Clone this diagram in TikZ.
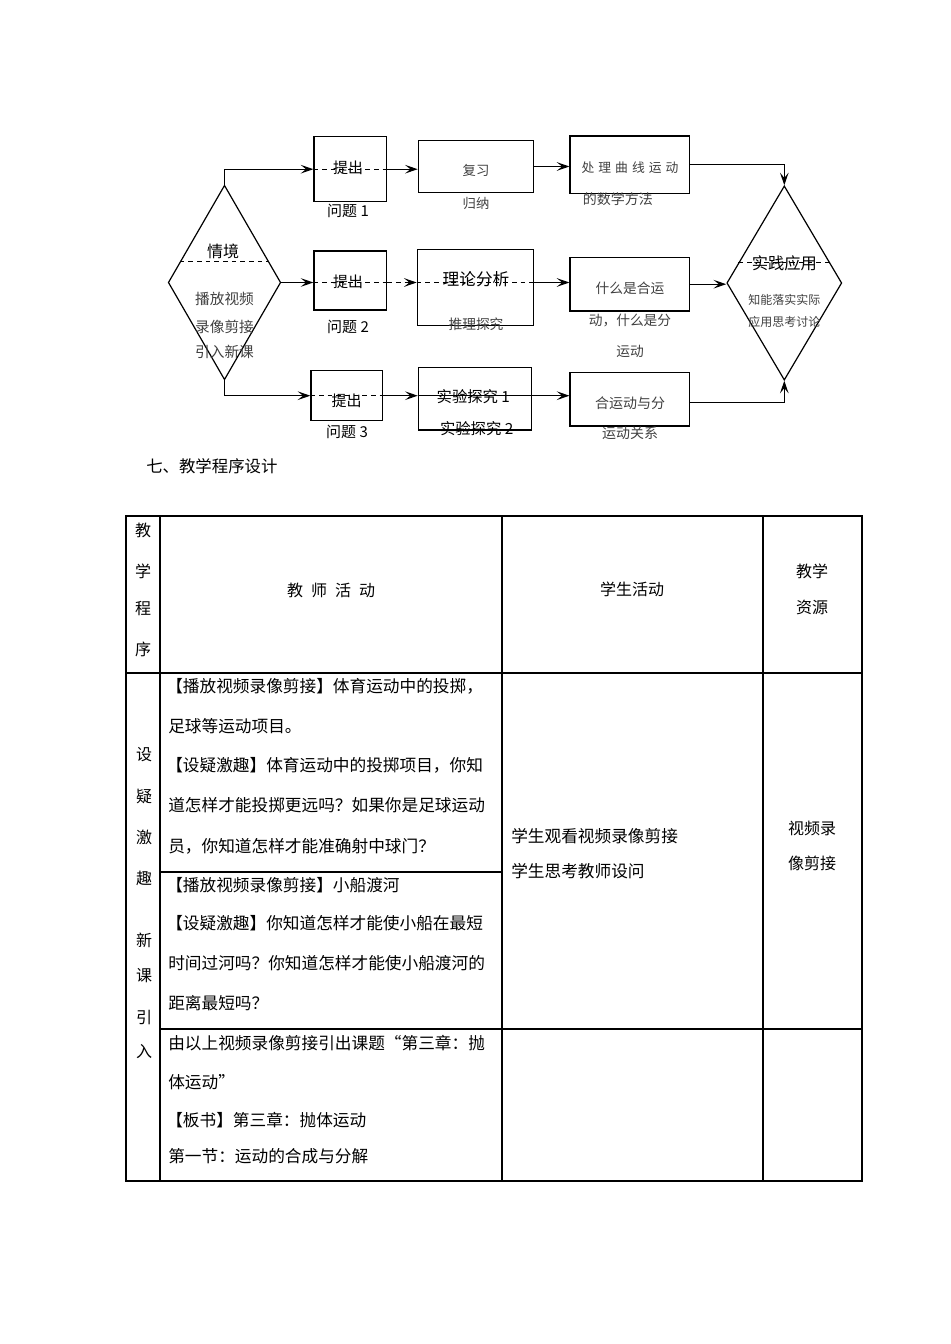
\documentclass[tikz,border=0pt]{standalone}
\usepackage{fontspec}
\setmainfont{Noto Sans CJK SC}
\usetikzlibrary{arrows.meta,shapes.geometric,calc}
\begin{document}
\begin{tikzpicture}[x=0.75pt,y=-0.75pt,
  fsz/.style={font=\fontsize{#1}{#1}\selectfont},
  box/.style={draw,line width=0.9pt,inner sep=0pt},
  dia/.style={draw,line width=0.9pt,diamond,inner sep=0pt},
  lbl/.style={inner sep=0pt},
  soft/.style={text=black!75},
  tip/.style={-{Stealth[length=9.5pt,width=6.5pt,inset=4pt]}},
  arr/.style={line width=0.9pt,tip},
  dline/.style={line width=0.9pt,dash pattern=on 3.5pt off 3pt},
  grid/.style={line width=0.9pt},
  frame/.style={line width=1.8pt}
]
\useasboundingbox (0,0) rectangle (950,1344);

% ---------- flowchart: shapes ----------
\node[dia,minimum width=84.4pt,minimum height=145.9pt] (dl) at (224.5,282.5) {};
\node[dia,minimum width=86.25pt,minimum height=145.7pt] (dr) at (784.3,283) {};

\node[box,minimum width=54.5pt,minimum height=48.75pt] (b1) at (350.3,169.2) {};
\node[box,minimum width=54.5pt,minimum height=44.25pt] (b2) at (350.3,280.5) {};
\node[box,minimum width=53.8pt,minimum height=37.5pt] (b3) at (346.8,395.7) {};

\node[box,minimum width=86.25pt,minimum height=38.7pt] (c1) at (475.8,166.5) {};
\node[box,minimum width=87pt,minimum height=57.3pt] (c2) at (475.3,287.5) {};
\node[box,minimum width=85pt,minimum height=47pt] (c3) at (475,398.7) {};

\node[box,minimum width=89.5pt,minimum height=43pt] (d1) at (629.7,164.7) {};
\node[box,minimum width=89.5pt,minimum height=40.3pt] (d2) at (629.7,284.2) {};
\node[box,minimum width=89.5pt,minimum height=40pt] (d3) at (629.7,399.3) {};

% dashed lines inside diamonds
\draw[dline] ($(dl.west)!0.214!(dl.north)$) -- ($(dl.east)!0.214!(dl.north)$);
\draw[dline] ($(dr.west)!0.209!(dr.north)$) -- ($(dr.east)!0.209!(dr.north)$);

% ---------- flowchart: texts ----------
\node[lbl,fsz=12pt] (tqj) at (223,251.7) {情境};
\node[lbl,fsz=11pt,soft] (tl1) at (224.5,299) {播放视频};
\node[lbl,fsz=11pt,soft] (tl2) at (224.5,327) {录像剪接};
\node[lbl,fsz=11pt,soft] (tl3) at (224.5,352) {引入新课};

\node[lbl,fsz=11.25pt] (tb1) at (348,168) {提出};
\node[lbl,fsz=11.25pt] (tb2) at (348,281.7) {提出};
\node[lbl,fsz=11.25pt] (tb3) at (346.7,401) {提出};
\node[lbl,fsz=11.25pt] (qb1) at (348,211) {问题 1};
\node[lbl,fsz=11.25pt] (qb2) at (348,327) {问题 2};
\node[lbl,fsz=11.25pt] (qb3) at (347,432) {问题 3};

\node[lbl,fsz=10pt,soft] (tc1) at (476,170.7) {复习};
\node[lbl,fsz=10pt,soft] (tc1b) at (476,203.3) {归纳};
\node[lbl,fsz=12.5pt] (tc2) at (476,279.3) {理论分析};
\node[lbl,fsz=10.3pt,soft] (tc2b) at (476,324) {推理探究};
\node[lbl,fsz=11.5pt] (tc3) at (473.3,396.7) {实验探究 1};
\node[lbl,fsz=11.5pt] (tc3b) at (476.7,428.3) {实验探究 2};

\node[lbl,fsz=9.6pt,soft] (td1) at (630,167.3) {处\hspace{3pt}理\hspace{3pt}曲\hspace{3pt}线\hspace{3pt}运\hspace{3pt}动};
\node[lbl,fsz=10.5pt,soft,anchor=west] (td1b) at (582.7,199) {的数学方法};
\node[lbl,fsz=10.3pt,soft] (td2) at (630,288.3) {什么是合运};
\node[lbl,fsz=10.3pt,soft] (td2b) at (630,320) {动，什么是分};
\node[lbl,fsz=10.3pt,soft] (td2c) at (630,351) {运动};
\node[lbl,fsz=10.5pt,soft] (td3) at (630,403.3) {合运动与分};
\node[lbl,fsz=10.5pt,soft] (td3b) at (630,433.3) {运动关系};

\node[lbl,fsz=12.2pt] (tsj) at (784.3,263.3) {实践应用};
\node[lbl,fsz=9pt,soft] (tsj1) at (784.3,300) {知能落实实际};
\node[lbl,fsz=9pt,soft] (tsj2) at (784.3,322.3) {应用思考讨论};

% ---------- flowchart: connectors ----------
% row 1
\draw[arr] (dl.north) |- (b1.west);
\draw[dline] (b1.west) -- (b1.east);
\draw[arr] (b1.east) -- (b1.east -| c1.west);
\draw[arr] (c1.east) -- (c1.east -| d1.west);
\draw[arr] (d1.east) -| (dr.north);
% row 2
\draw[arr] (dl.east) -- (dl.east -| b2.west);
\draw[dline] (dl.east -| b2.west) -- (dl.east -| b2.east);
\draw[dline,tip] (dl.east -| b2.east) -- (dl.east -| c2.west);
\draw[dline] (dl.east -| c2.west) -- (dl.east -| c2.east);
\draw[arr] (dl.east -| c2.east) -- (dl.east -| d2.west);
\draw[arr] (d2.east) -- (d2.east -| dr.west);
% row 3
\draw[arr] (dl.south) |- (b3.west);
\draw[dline] (b3.west) -- (b3.east);
\draw[arr] (b3.east) -- (b3.east -| c3.west);
\draw[arr] (b3.east -| c3.west) -- (b3.east -| d3.west);
\draw[arr] ([yshift=-2.5pt]d3.east) -| (dr.south);

% ---------- heading ----------
\node[lbl,fsz=12.3pt,anchor=west] (head) at (146,466) {七、教学程序设计};

% ---------- table ----------
\draw[grid] (160,516) -- (160,1181);
\draw[grid] (502,516) -- (502,1181);
\draw[grid] (763,516) -- (763,1181);
\draw[grid] (126,673) -- (862,673);
\draw[grid] (160,872) -- (502,872);
\draw[grid] (160,1029) -- (862,1029);
\draw[frame] (126,516) rectangle (862,1181);

% header
\node[lbl,fsz=12pt] (h1) at (143,530) {教};
\node[lbl,fsz=12pt] (h2) at (143,571) {学};
\node[lbl,fsz=12pt] (h3) at (143,609) {程};
\node[lbl,fsz=12pt] (h4) at (143,649) {序};
\node[lbl,fsz=12pt] (hteach) at (331,590) {教\hspace{6pt}师\hspace{6pt}活\hspace{6pt}动};
\node[lbl,fsz=12pt] (hstud) at (632,589) {学生活动};
\node[lbl,fsz=12pt] (hres1) at (812,571) {教学};
\node[lbl,fsz=12pt] (hres2) at (812,607) {资源};

% left column
\node[lbl,fsz=12pt] (s1) at (144,755) {设};
\node[lbl,fsz=12pt] (s2) at (144,796) {疑};
\node[lbl,fsz=12pt] (s3) at (144,837) {激};
\node[lbl,fsz=12pt] (s4) at (144,878) {趣};
\node[lbl,fsz=12pt] (s5) at (144,940) {新};
\node[lbl,fsz=12pt] (s6) at (144,976) {课};
\node[lbl,fsz=12pt] (s7) at (144,1017) {引};
\node[lbl,fsz=12pt] (s8) at (144,1052) {入};

% teacher column
\begin{scope}[every node/.style={lbl,fsz=12.5pt,anchor=west}]
\node (r1) at (166,686) {【播放视频录像剪接】体育运动中的投掷，};
\node (r2) at (168,726) {足球等运动项目。};
\node (r3) at (166,765) {【设疑激趣】体育运动中的投掷项目，你知};
\node (r4) at (168,805) {道怎样才能投掷更远吗？如果你是足球运动};
\node (r5) at (168,846) {员，你知道怎样才能准确射中球门？};
\node (r6) at (166,885) {【播放视频录像剪接】小船渡河};
\node (r7) at (166,923) {【设疑激趣】你知道怎样才能使小船在最短};
\node (r8) at (168,963) {时间过河吗？你知道怎样才能使小船渡河的};
\node (r9) at (168,1003) {距离最短吗？};
\node (r10) at (168,1043) {由以上视频录像剪接引出课题“第三章：抛};
\node (r11) at (168,1082) {体运动”};
\node (r12) at (166,1120) {【板书】第三章：抛体运动};
\node (r13) at (168,1156) {第一节：运动的合成与分解};
% student column
\node (st1) at (511,836) {学生观看视频录像剪接};
\node (st2) at (511,871) {学生思考教师设问};
\end{scope}

% resource column
\node[lbl,fsz=12pt] (rs1) at (812,828) {视频录};
\node[lbl,fsz=12pt] (rs2) at (812,863) {像剪接};

\end{tikzpicture}
\end{document}
